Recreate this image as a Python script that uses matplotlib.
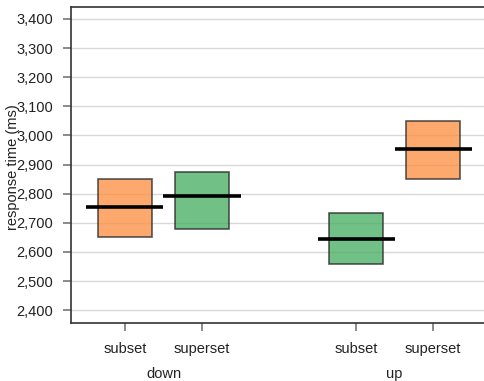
import matplotlib
matplotlib.use("Agg")
import matplotlib.pyplot as plt
from matplotlib.patches import Rectangle

plt.rcParams['font.family'] = ['Liberation Sans', 'DejaVu Sans']

groups = ["down", "up"]
conditions = ["subset", "superset", "subset", "superset"]
group_of = ["down", "down", "up", "up"]
means = [2753, 2792, 2646, 2952]
lows = [2653, 2679, 2557, 2851]
highs = [2850, 2873, 2733, 3051]
colors = ["#fd8d3c", "#41ab5d", "#41ab5d", "#fd8d3c"]
yticks = [2400, 2500, 2600, 2700, 2800, 2900, 3000, 3100, 3200, 3300, 3400]

positions = [1, 2, 4, 5]

fig = plt.figure(figsize=(4.85, 3.81), dpi=100)
ax = fig.add_axes([71/485, 1 - 323/381, (484-71)/485, (323-7)/381])

box_w = 0.71
line_w = 1.0
for x, m, lo, hi, c in zip(positions, means, lows, highs, colors):
    ax.add_patch(Rectangle((x - box_w/2, lo), box_w, hi - lo, facecolor=c,
                           edgecolor="#222222", alpha=0.75, linewidth=1.2, zorder=3))
    ax.plot([x - line_w/2, x + line_w/2], [m, m], color="black", lw=2.6,
            solid_capstyle="butt", zorder=4)

ax.set_xlim(0.30, 5.66)
ax.set_ylim(2356, 3441)
ax.set_yticks(yticks)
ax.set_yticklabels([f"{v:,}" for v in yticks])
ax.set_xticks(positions)
ax.set_xticklabels(conditions)
ax.grid(axis="y", color="#d9d9d9", lw=1.0, zorder=0)
ax.set_axisbelow(True)

for s in ["right"]:
    ax.spines[s].set_visible(False)
for s in ["left", "bottom", "top"]:
    ax.spines[s].set_color("#333333")
    ax.spines[s].set_linewidth(1.2)

ax.tick_params(axis="both", colors="#777777", labelcolor="#222222", labelsize=10.5,
               length=6, width=1.2, direction="out", pad=7)
ax.tick_params(axis="x", pad=8)

for g, xs in zip(groups, [(1, 2), (4, 5)]):
    ax.text(sum(xs)/2, -(374-323)/316, g, transform=ax.get_xaxis_transform(),
            ha="center", va="center", fontsize=10.5, color="#222222")

fig.text(13/485, 1 - 167/381, "response time (ms)", rotation=90, ha="center",
         va="center", fontsize=10.5, color="#222222")

fig.savefig("out.png", dpi=100)
